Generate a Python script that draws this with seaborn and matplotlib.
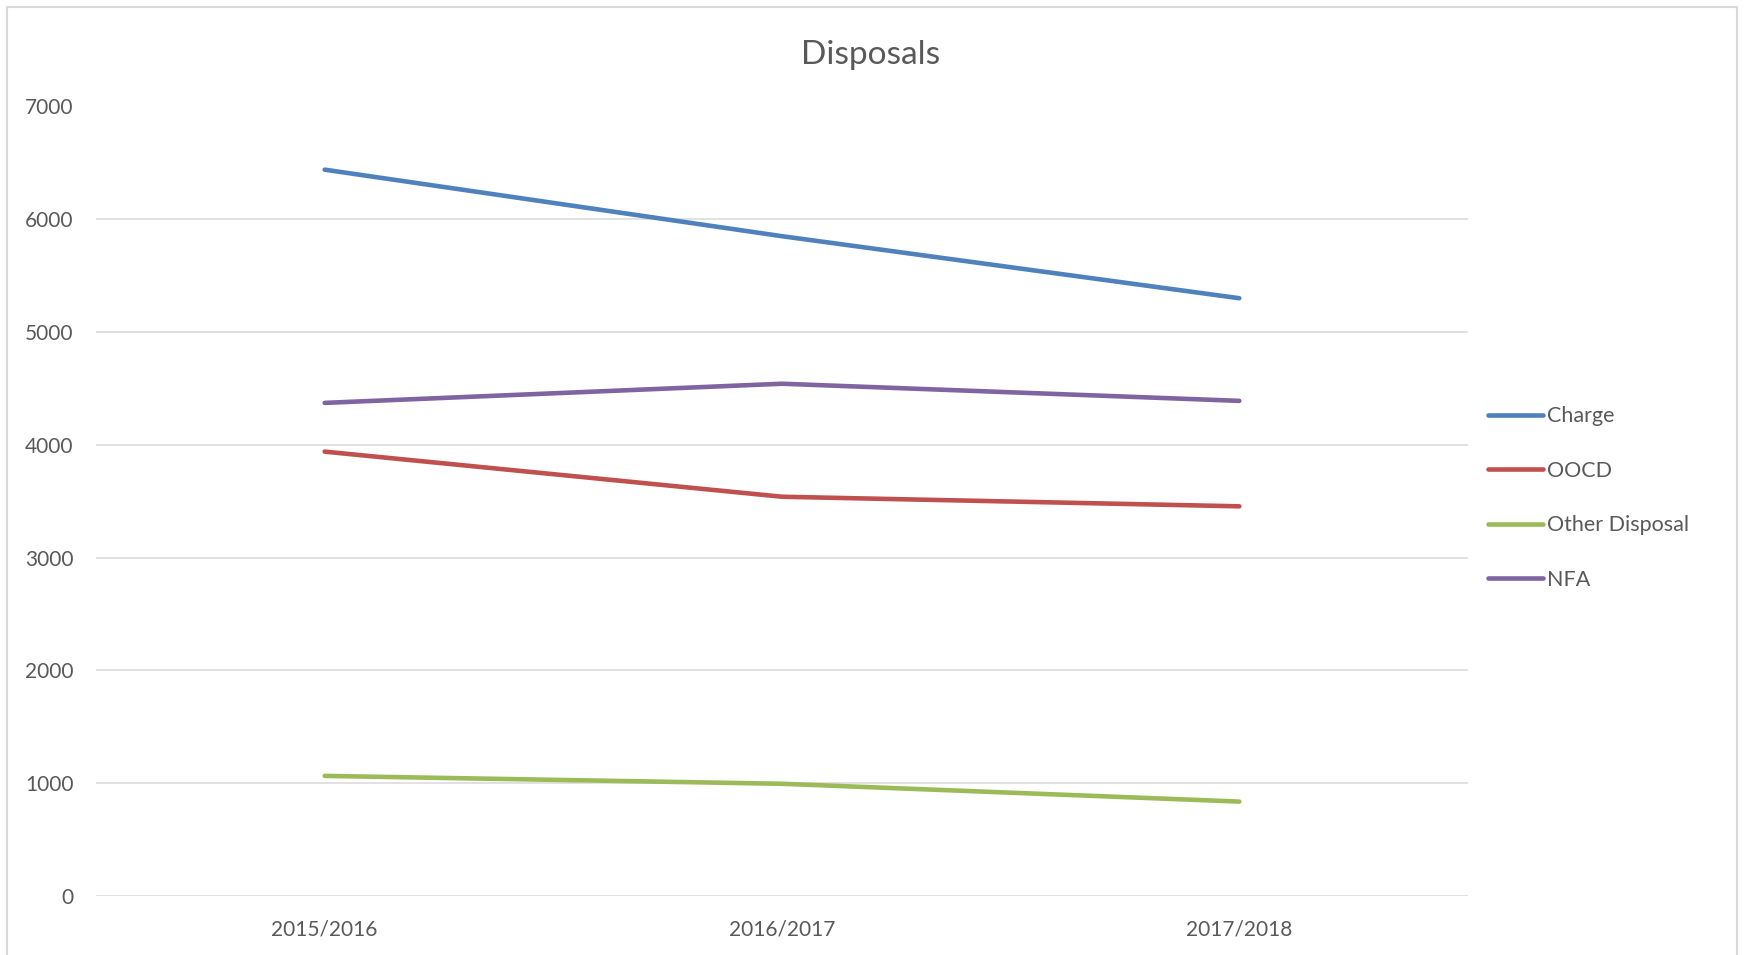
import pandas as pd
import numpy as np
import matplotlib.pyplot as plt
import seaborn as sns
from matplotlib.patches import Rectangle


### data
years = ["2015/2016", "2016/2017", "2017/2018"]
charge = [6440, 5850, 5300]
oocd = [3940, 3540, 3455]
other_disposal = [1065, 995, 837]
nfa = [4372, 4542, 4390]

series_names = ["Charge", "OOCD", "Other Disposal", "NFA"]
colors = {"Charge": "#4F81BD", "OOCD": "#C0504D",
          "Other Disposal": "#9BBB59", "NFA": "#8064A2"}

df = pd.DataFrame({
    "year": years * 4,
    "series": np.repeat(series_names, len(years)),
    "value": charge + oocd + other_disposal + nfa,
})


sns.set_theme(style="white")
plt.rcParams['font.family'] = ['Lato', 'DejaVu Sans']
text_grey = "#595959"

fig = plt.figure(figsize = (17.44, 9.55), dpi = 100)
ax = fig.add_axes([96 / 1744, 1 - 896 / 955, (1468 - 96) / 1744, (896 - 106.5) / 955])

sns.lineplot(data = df, x = "year", y = "value", hue = "series",
             hue_order = series_names, palette = colors, sort = False,
             linewidth = 3.3, ax = ax, legend = True)
for line in ax.get_lines():
    line.set_solid_capstyle("round")

ax.set_xlim(-0.5, 2.5)
ax.set_ylim(0, 7000)
ax.set_yticks(range(0, 7001, 1000))
ax.set_xlabel("")
ax.set_ylabel("")
ax.grid(axis = "y", color = "#D9D9D9", linewidth = 1.1)
ax.grid(axis = "x", visible = False)
ax.set_axisbelow(True)
for s in ax.spines.values():
    s.set_visible(False)
ax.tick_params(axis = "both", length = 0, labelsize = 15, labelcolor = text_grey)
ax.tick_params(axis = "y", pad = 16)
ax.tick_params(axis = "x", pad = 17)

### legend on the right like excel
handles, labels = ax.get_legend_handles_labels()
ax.legend_.remove()
for h in handles:
    h.set_linewidth(3.3)
    h.set_solid_capstyle("round")
leg = fig.legend(handles, labels, loc = "center left",
                 bbox_to_anchor = (1488 / 1744, 1 - 498 / 955),
                 frameon = False, fontsize = 15.5, handlelength = 2.55,
                 handletextpad = 0.2, labelspacing = 1.6,
                 borderpad = 0, borderaxespad = 0)
for t in leg.get_texts():
    t.set_color(text_grey)

fig.text(871 / 1744, 1 - 55 / 955, "Disposals", ha = "center", va = "center",
         fontsize = 24, color = text_grey)

### chart border
fig.patches.append(Rectangle((7 / 1744, -0.05), (1737 - 7) / 1744, 1.05 - 7 / 955,
                             transform = fig.transFigure, fill = False,
                             edgecolor = "#D9D9D9", linewidth = 1.5))

fig.savefig("out.png", dpi = 100)
